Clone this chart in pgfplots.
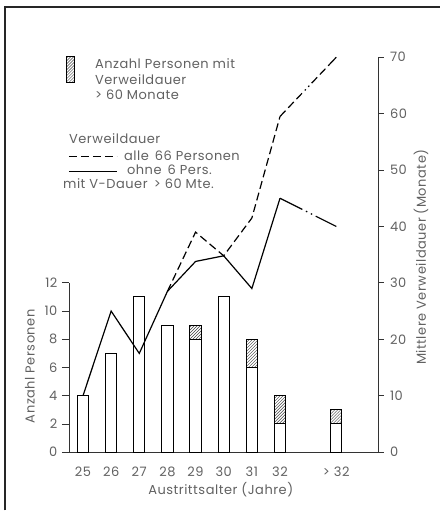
\documentclass[border=0pt]{standalone}
\usepackage{fontspec}
\setmainfont{Poppins}[LetterSpace=4]
\usepackage{pgfplots}
\pgfplotsset{compat=1.18}
\usetikzlibrary{patterns}
\definecolor{txt}{gray}{0.38}
\begin{document}
\begin{tikzpicture}[font=\fontsize{13}{15}\selectfont]
\path (-69pt,-58.3pt) rectangle (372pt,452.7pt);
\draw[line width=1.3pt, black!85] (-64pt,-58.3pt) -- (-64pt,445.7pt) -- (372pt,445.7pt);

\begin{axis}[at={(0,0)}, anchor=south west, scale only axis, width=310pt, height=395.4pt,
  xmin=24.5, xmax=35.5, ymin=0, ymax=28,
  axis x line*=bottom, axis y line*=left, axis line style={draw=none},
  xtick={25,26,27,28,29,30,31,32,34}, xticklabels={25,26,27,28,29,30,31,32,{> 32}},
  ytick={0,2,...,12},
  tick align=outside, major tick length=7pt,
  x tick style={draw=none},
  y tick style={line width=0.8pt, black!80},
  ticklabel style={text=txt, font=\fontsize{13}{15}\selectfont},
  xticklabel style={yshift=-4pt},
  yticklabel style={xshift=-1pt},
  /pgf/number format/assume math mode=true,
  ybar stacked, bar width=11.3pt, clip=false]
\addplot[fill=white, draw=black, line width=1pt] coordinates {(25,4) (26,7) (27,11) (28,9) (29,8) (30,11) (31,6) (32,2) (34,2)};
\addplot[pattern=north east lines, pattern color=black!75, draw=black, line width=1pt] coordinates {(25,0) (26,0) (27,0) (28,0) (29,1) (30,0) (31,2) (32,2) (34,1)};
\draw[line width=0.8pt, black!80] (axis cs:24.5,0) -- (axis cs:24.5,12);
\draw[line width=0.8pt, black!80] (axis cs:24.5,0) -- (axis cs:35.5,0);
\end{axis}

\begin{axis}[at={(0,0)}, anchor=south west, scale only axis, width=310pt, height=395.4pt,
  xmin=24.5, xmax=35.5, ymin=0, ymax=70,
  axis x line=none, axis y line*=right,
  ytick={0,10,...,70}, tick align=outside, major tick length=5pt,
  y axis line style={line width=0.8pt, black!80},
  y tick style={line width=0.8pt, black!80},
  ticklabel style={text=txt, font=\fontsize{13}{15}\selectfont},
  yticklabel style={xshift=3pt},
  /pgf/number format/assume math mode=true, clip=false]
\addplot[line width=1.2pt, black] coordinates {(25,10) (26,25) (27,17.5) (28,28.5) (29,33.8) (30,34.8) (31,29) (32,45)};
\addplot[line width=1.2pt, black, dash pattern=on 25pt off 4pt on 1.5pt off 4pt on 1.5pt off 4pt on 40pt] coordinates {(32,45) (34,40)};
\addplot[line width=1.2pt, black, dash pattern=on 8pt off 4pt] coordinates {(28,28.5) (29,39) (30,34.8) (31,41.5) (32,59.5)};
\addplot[line width=1.2pt, black, dash pattern=on 8pt off 4pt on 8pt off 4pt on 8pt off 4pt on 1.5pt off 3.5pt on 1.5pt off 3.5pt on 8pt off 4pt on 8pt off 4pt on 40pt] coordinates {(32,59.5) (34,70)};
\end{axis}

\begin{scope}[text=txt]
\node[rotate=90] at (-39pt,86pt) {Anzahl Personen};
\node[rotate=90] at (352.5pt,195.2pt) {Mittlere Verweildauer (Monate)};
\node at (152pt,-38pt) {Austrittsalter (Jahre)};
\draw[line width=1pt, black, pattern=north east lines, pattern color=black!75] (-2pt,396pt) rectangle (6pt,370pt);
\node[anchor=base west, inner sep=0pt] at (26pt,384.4pt) {Anzahl Personen mit};
\node[anchor=base west, inner sep=0pt] at (26pt,367.7pt) {Verweildauer};
\node[anchor=base west, inner sep=0pt] at (26pt,353.4pt) {> 60 Monate};
\node[anchor=base west, inner sep=0pt] at (0pt,308.7pt) {Verweildauer};
\draw[line width=1.2pt, black, dash pattern=on 8pt off 4pt] (0pt,296pt) -- (48pt,296pt);
\node[anchor=base west, inner sep=0pt] at (55pt,292pt) {alle\, 66 Personen};
\draw[line width=1.2pt, black] (0pt,281pt) -- (48pt,281pt);
\node[anchor=base west, inner sep=0pt] at (58pt,277.7pt) {ohne\, 6 Pers.};
\node[anchor=base west, inner sep=0pt] at (-6pt,263.7pt) {mit V-Dauer\, > 60 Mte.};
\end{scope}
\end{tikzpicture}
\end{document}
